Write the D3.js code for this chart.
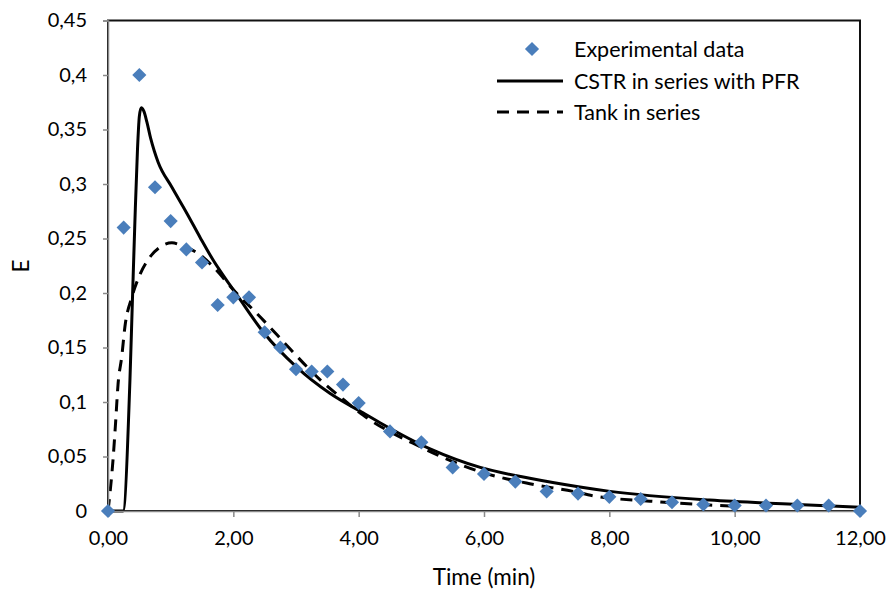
<!DOCTYPE html>
<html>
<head>
<meta charset="utf-8">
<script src="https://cdn.jsdelivr.net/npm/d3@7"></script>
<style>
  html, body { margin: 0; padding: 0; background: #fff; }
  svg { display: block; }
  text { font-family: Lato, "Open Sans", sans-serif; fill: #000; }
</style>
</head>
<body>
<svg id="chart" width="889" height="594"></svg>
<script>
// ---- data ----
const expTime = [0, 0.25, 0.5, 0.75, 1.0, 1.25, 1.5, 1.75, 2.0, 2.25, 2.5, 2.75, 3.0, 3.25, 3.5, 3.75, 4.0,
  4.5, 5.0, 5.5, 6.0, 6.5, 7.0, 7.5, 8.0, 8.5, 9.0, 9.5, 10.0, 10.5, 11.0, 11.5, 12.0];
const expE = [0, 0.260, 0.400, 0.297, 0.266, 0.240, 0.228, 0.189, 0.196, 0.196, 0.164, 0.150, 0.130, 0.128, 0.128, 0.116, 0.099,
  0.073, 0.063, 0.040, 0.034, 0.027, 0.018, 0.016, 0.013, 0.011, 0.008, 0.006, 0.005, 0.005, 0.005, 0.005, 0];

const cstrTime = [0, 0.24, 0.35, 0.39, 0.43, 0.47, 0.50, 0.53, 0.57, 0.62, 0.68, 0.74, 0.80, 1.02, 1.26, 1.47, 1.68,
  1.95, 2.06, 2.48, 3.01, 3.54, 4.07, 4.34, 5.14, 5.94, 6.73, 7.53, 8.01, 9.6, 11.0, 12.0];
const cstrE = [0, 0, 0.12, 0.194, 0.267, 0.331, 0.362, 0.370, 0.367, 0.357, 0.342, 0.330, 0.320, 0.297, 0.273, 0.251, 0.230,
  0.207, 0.198, 0.164, 0.132, 0.108, 0.090, 0.081, 0.057, 0.040, 0.030, 0.022, 0.018, 0.010, 0.006, 0.0035];

const tankTime = [0, 0.016, 0.08, 0.12, 0.16, 0.22, 0.27, 0.38, 0.51, 0.67, 0.83, 1.02, 1.20, 1.42, 1.68, 2.0, 2.43, 2.9,
  3.18, 3.43, 3.72, 4.07, 4.98, 5.94, 6.73, 7.42, 7.74, 8.65, 9.6, 10.0];
const tankE = [0, 0.008, 0.047, 0.08, 0.116, 0.142, 0.169, 0.196, 0.217, 0.233, 0.242, 0.246, 0.243, 0.237, 0.224, 0.203, 0.178, 0.149,
  0.132, 0.118, 0.104, 0.088, 0.059, 0.036, 0.025, 0.018, 0.014, 0.009, 0.0055, 0.0045];

const xTicks = [0, 2, 4, 6, 8, 10, 12];
const yTicks = [0, 0.05, 0.1, 0.15, 0.2, 0.25, 0.3, 0.35, 0.4, 0.45];
const seriesNames = ["Experimental data", "CSTR in series with PFR", "Tank in series"];
const xTitle = "Time (min)";
const yTitle = "E";

// ---- layout ----
const svg = d3.select("#chart");
const pLeft = 108, pRight = 860, pTop = 20.5, pBottom = 511;
const x = d3.scaleLinear().domain([0, 12]).range([pLeft, pRight]);
const y = d3.scaleLinear().domain([0, 0.45]).range([pBottom, pTop]);
const fontSize = 20;
const legendFont = 21.5;
const titleFont = 22.5;
const axisColor = "#898989";
const blue = "#4a7ebb";

// plot border (top/right visible)
svg.append("rect")
  .attr("x", pLeft).attr("y", pTop)
  .attr("width", pRight - pLeft).attr("height", pBottom - pTop)
  .attr("fill", "none").attr("stroke", "#111").attr("stroke-width", 2);

// curves
const lineGen = d3.line().x(d => x(d[0])).y(d => y(d[1])).curve(d3.curveMonotoneX);
const tankData = tankTime.map((t, i) => [t, tankE[i]]);
const cstrData = cstrTime.map((t, i) => [t, cstrE[i]]);

svg.append("path").datum(tankData)
  .attr("d", lineGen).attr("fill", "none").attr("stroke", "#000")
  .attr("stroke-width", 3).attr("stroke-dasharray", "12,8");

svg.append("path").datum(cstrData)
  .attr("d", lineGen).attr("fill", "none").attr("stroke", "#000")
  .attr("stroke-width", 3).attr("stroke-linejoin", "round");

// axes
const xAxis = d3.axisBottom(x).tickValues(xTicks).tickSize(6).tickPadding(14)
  .tickFormat(d => d3.format(".2f")(d).replace(".", ","));
const gx = svg.append("g").attr("transform", `translate(0,${pBottom})`).call(xAxis);
gx.selectAll("path.domain").attr("stroke", axisColor).attr("stroke-width", 1.5);
gx.selectAll(".tick line").attr("stroke", axisColor).attr("stroke-width", 1.5);
gx.selectAll(".tick text").attr("font-size", fontSize).attr("font-family", "Lato").attr("fill", "#000");

const yAxis = d3.axisLeft(y).tickValues(yTicks).tickSize(5).tickPadding(16)
  .tickFormat(d => (d === 0 ? "0" : String(+d.toFixed(2)).replace(".", ",")));
const gy = svg.append("g").attr("transform", `translate(${pLeft},0)`).call(yAxis);
gy.selectAll("path.domain").attr("stroke", axisColor).attr("stroke-width", 1.5);
gy.selectAll(".tick line").attr("stroke", axisColor).attr("stroke-width", 1.5);
gy.selectAll(".tick text").attr("font-size", fontSize).attr("font-family", "Lato").attr("fill", "#000");

// markers
const diamond = d3.symbol().type(d3.symbolSquare).size(100);
svg.append("g").selectAll("path")
  .data(expTime.map((t, i) => [t, expE[i]]))
  .join("path")
  .attr("d", diamond)
  .attr("transform", d => `translate(${x(d[0])},${y(d[1])}) rotate(45)`)
  .attr("fill", blue);

// axis titles
svg.append("text").attr("x", 484).attr("y", 585)
  .attr("text-anchor", "middle").attr("font-size", titleFont).text(xTitle);
svg.append("text").attr("transform", `translate(29,266) rotate(-90)`)
  .attr("text-anchor", "middle").attr("font-size", titleFont).text(yTitle);

// legend
const lg = svg.append("g");
const legY = [49, 81, 112];
lg.append("path").attr("d", diamond)
  .attr("transform", `translate(532,${legY[0]}) rotate(45)`).attr("fill", blue);
lg.append("line").attr("x1", 497).attr("x2", 563).attr("y1", legY[1]).attr("y2", legY[1])
  .attr("stroke", "#000").attr("stroke-width", 3);
lg.append("line").attr("x1", 497).attr("x2", 563).attr("y1", legY[2]).attr("y2", legY[2])
  .attr("stroke", "#000").attr("stroke-width", 3).attr("stroke-dasharray", "12,8");
seriesNames.forEach((n, i) => {
  lg.append("text").attr("x", 574).attr("y", legY[i]).attr("dy", "0.35em")
    .attr("font-size", legendFont).text(n);
});
</script>
</body>
</html>
